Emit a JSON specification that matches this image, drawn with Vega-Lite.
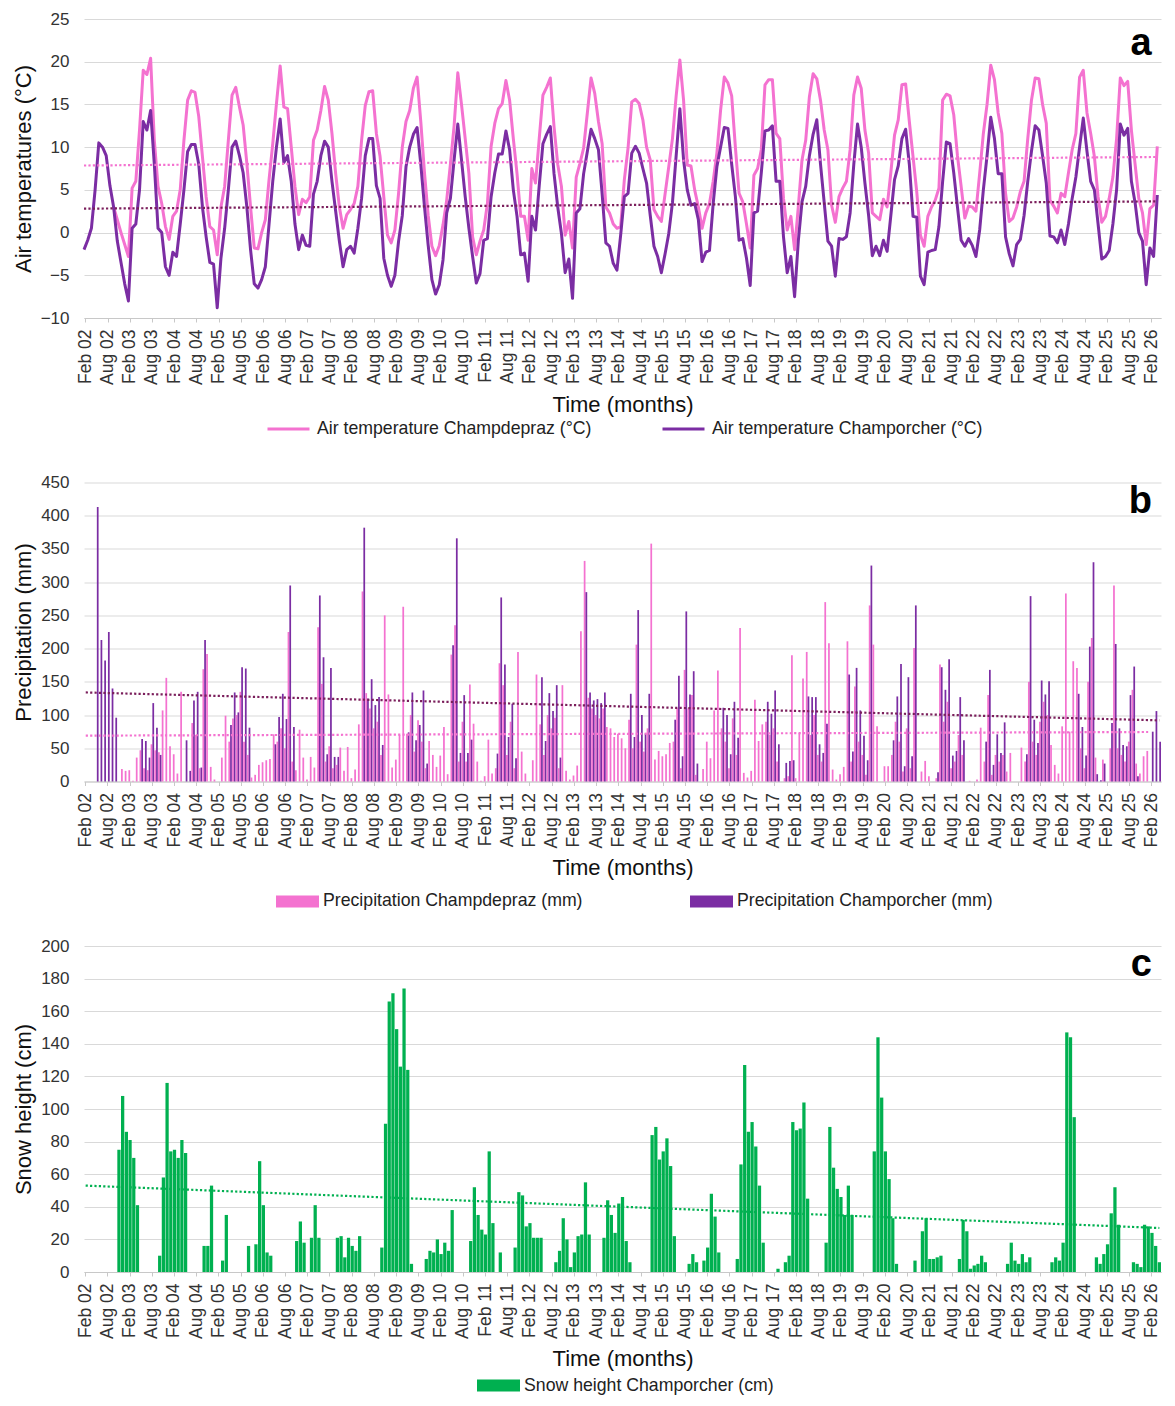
{
"$schema":"https://vega.github.io/schema/vega-lite/v6.json",
"background":"white",
"padding":{"left":12,"top":10,"right":15,"bottom":5},
"config":{
 "font":"Liberation Sans",
 "view":{"stroke":null},
 "axis":{"labelFont":"Liberation Sans","titleFont":"Liberation Sans","labelColor":"#333333","titleColor":"#111111","titleFontWeight":"normal","gridColor":"#d9d9d9","gridWidth":1,"domainColor":"#c8c8c8","tickColor":"#c8c8c8"},
 "axisX":{"grid":false,"labelAngle":270,"labelFontSize":17.5,"titleFontSize":22,"tickSize":4,"labelPadding":7,"titlePadding":10,"labelOverlap":false},
 "axisY":{"domain":false,"ticks":false,"labelFontSize":17,"titleFontSize":22,"labelPadding":15,"titlePadding":5,"labelOverlap":false},
 "legend":{"labelFont":"Liberation Sans","labelFontSize":17.7,"labelColor":"#222222","orient":"none","direction":"horizontal","padding":0}
},
"datasets":{
"tr":[{"d":"2002-02","ta":7.85,"tb":2.8,"pa":69,"pb":134,"s":53},{"d":"2026-01","pa":74.5},{"d":"2026-04","ta":8.85,"tb":3.65,"pb":92,"s":27}],
"m":[
{"d":"2002-02","tb":-2},
{"d":"2002-03","tb":-0.9},
{"d":"2002-04","tb":0.5},
{"d":"2002-05","tb":5,"pb":413},
{"d":"2002-06","tb":10.5,"pb":213},
{"d":"2002-07","tb":10,"pb":182},
{"d":"2002-08","tb":9,"pb":225},
{"d":"2002-09","tb":5.5,"pb":140},
{"d":"2002-10","ta":3,"tb":3,"pb":96},
{"d":"2002-11","ta":1.5,"tb":-1,"s":75},
{"d":"2002-12","ta":0,"tb":-3.5,"pa":19,"s":108},
{"d":"2003-01","ta":-1.4,"tb":-6,"pa":16,"s":86},
{"d":"2003-02","ta":-2.8,"tb":-8,"pa":17,"s":81},
{"d":"2003-03","ta":5.2,"tb":0.5,"pa":1,"s":70},
{"d":"2003-04","ta":6,"tb":1,"pa":36,"s":41},
{"d":"2003-05","ta":12,"tb":5,"pa":47,"pb":64},
{"d":"2003-06","ta":19,"tb":13,"pa":20,"pb":61},
{"d":"2003-07","ta":18.5,"tb":12,"pa":17,"pb":36},
{"d":"2003-08","ta":20.4,"tb":14.3,"pa":56,"pb":118},
{"d":"2003-09","ta":10.8,"tb":8,"pa":47,"pb":81},
{"d":"2003-10","ta":5.4,"tb":0.5,"pa":44,"pb":40,"s":10},
{"d":"2003-11","ta":3.4,"tb":0,"pa":107,"s":58},
{"d":"2003-12","ta":0.7,"tb":-4,"pa":156,"s":116},
{"d":"2004-01","ta":-0.8,"tb":-5,"pa":53,"s":74},
{"d":"2004-02","ta":1.9,"tb":-2.3,"pa":41,"s":75},
{"d":"2004-03","ta":2.5,"tb":-2.8,"pa":12,"s":70},
{"d":"2004-04","ta":5,"tb":1,"pa":135,"s":81},
{"d":"2004-05","ta":10.8,"tb":5,"pb":62,"s":73},
{"d":"2004-06","ta":15.5,"tb":9.5,"pb":16},
{"d":"2004-07","ta":16.6,"tb":10.3,"pa":88,"pb":122},
{"d":"2004-08","ta":16.4,"tb":10.3,"pa":70,"pb":135},
{"d":"2004-09","ta":13.6,"tb":8,"pa":20,"pb":21},
{"d":"2004-10","ta":8.9,"tb":3,"pa":169,"pb":213,"s":16},
{"d":"2004-11","ta":4.2,"tb":-0.5,"pa":192,"s":16},
{"d":"2004-12","ta":0.7,"tb":-3.5,"pa":22,"s":53},
{"d":"2005-01","ta":0.3,"tb":-3.7,"pa":3},
{"d":"2005-02","ta":-2.6,"tb":-8.8},
{"d":"2005-03","ta":3,"tb":-3,"pa":36,"s":7},
{"d":"2005-04","ta":5.4,"tb":0.5,"pa":99,"s":35},
{"d":"2005-05","ta":10.8,"tb":5,"pa":60,"pb":85},
{"d":"2005-06","ta":16.1,"tb":10,"pa":95,"pb":134},
{"d":"2005-07","ta":17,"tb":10.7,"pa":100,"pb":104},
{"d":"2005-08","ta":14.7,"tb":9,"pa":135,"pb":172},
{"d":"2005-09","ta":12.6,"tb":7,"pa":60,"pb":170},
{"d":"2005-10","ta":8.1,"tb":3,"pa":40,"pb":81,"s":16},
{"d":"2005-11","ta":3,"tb":-2,"pa":6},
{"d":"2005-12","ta":-1.8,"tb":-6,"pa":10,"s":17},
{"d":"2006-01","ta":-1.9,"tb":-6.5,"pa":25,"s":68},
{"d":"2006-02","ta":0,"tb":-5.5,"pa":29,"s":41},
{"d":"2006-03","ta":1.5,"tb":-4,"pa":32,"s":12},
{"d":"2006-04","ta":6.2,"tb":1,"pa":34,"s":10},
{"d":"2006-05","ta":10.4,"tb":6,"pa":71,"pb":56},
{"d":"2006-06","ta":15.1,"tb":10,"pa":60,"pb":97},
{"d":"2006-07","ta":19.5,"tb":13.3,"pa":80,"pb":132},
{"d":"2006-08","ta":14.7,"tb":8.2,"pa":50,"pb":94},
{"d":"2006-09","ta":14.5,"tb":9,"pa":225,"pb":295},
{"d":"2006-10","ta":10,"tb":6,"pa":30,"pb":82},
{"d":"2006-11","ta":5.4,"tb":1,"pa":17,"s":19},
{"d":"2006-12","ta":2.1,"tb":-2,"pa":78,"s":31},
{"d":"2007-01","ta":3.9,"tb":-0.3,"pa":36,"s":18},
{"d":"2007-02","ta":3.5,"tb":-1.5,"pa":3},
{"d":"2007-03","ta":4.2,"tb":-1.6,"pa":37,"s":21},
{"d":"2007-04","ta":10.8,"tb":4.5,"pa":21,"s":41},
{"d":"2007-05","ta":12,"tb":6,"pa":232,"pb":280,"s":21},
{"d":"2007-06","ta":14.3,"tb":9,"pa":147,"pb":187},
{"d":"2007-07","ta":17.1,"tb":10.7,"pa":30,"pb":41},
{"d":"2007-08","ta":15.5,"tb":10,"pa":53,"pb":171},
{"d":"2007-09","ta":11.6,"tb":6,"pa":20,"pb":37},
{"d":"2007-10","ta":6.9,"tb":2.5,"pa":25,"pb":37,"s":21},
{"d":"2007-11","ta":3,"tb":-1,"pa":51,"s":22},
{"d":"2007-12","ta":0.5,"tb":-4,"pa":16,"s":9},
{"d":"2008-01","ta":2.1,"tb":-2,"pa":52,"s":21},
{"d":"2008-02","ta":2.7,"tb":-1.6,"pa":5,"s":16},
{"d":"2008-03","ta":3.4,"tb":-2.4,"pa":18,"s":13},
{"d":"2008-04","ta":5.4,"tb":0.5,"pa":86,"s":22},
{"d":"2008-05","ta":10.8,"tb":4,"pa":286,"pb":382},
{"d":"2008-06","ta":14.9,"tb":9,"pa":133,"pb":125},
{"d":"2008-07","ta":16.5,"tb":11,"pa":110,"pb":154},
{"d":"2008-08","ta":16.6,"tb":11,"pa":80,"pb":115},
{"d":"2008-09","ta":11.6,"tb":5.5,"pa":90,"pb":127},
{"d":"2008-10","ta":8.9,"tb":4,"pa":40,"pb":55,"s":15},
{"d":"2008-11","ta":4.2,"tb":-3,"pa":250,"s":91},
{"d":"2008-12","ta":-0.3,"tb":-5,"pa":131,"s":166},
{"d":"2009-01","ta":-1.2,"tb":-6.3,"pa":21,"s":171},
{"d":"2009-02","ta":0.3,"tb":-5,"pa":33,"s":149},
{"d":"2009-03","ta":4.6,"tb":-1,"pa":70,"s":126},
{"d":"2009-04","ta":10,"tb":2,"pa":263,"s":174},
{"d":"2009-05","ta":13,"tb":7.7,"pa":72,"pb":74,"s":124},
{"d":"2009-06","ta":14.3,"tb":10,"pa":100,"pb":134,"s":5},
{"d":"2009-07","ta":16.9,"tb":11.5,"pa":45,"pb":62},
{"d":"2009-08","ta":18.2,"tb":12.3,"pa":92,"pb":85},
{"d":"2009-09","ta":13,"tb":8,"pa":60,"pb":137},
{"d":"2009-10","ta":7,"tb":3,"pa":20,"pb":27,"s":8},
{"d":"2009-11","ta":2,"tb":-1.5,"pa":61,"s":13},
{"d":"2009-12","ta":-1.6,"tb":-5.5,"pa":40,"s":12},
{"d":"2010-01","ta":-2.7,"tb":-7.2,"pa":22,"s":20},
{"d":"2010-02","ta":-1.5,"tb":-6.1,"pa":39,"s":11},
{"d":"2010-03","ta":0.9,"tb":-3.2,"pa":82,"s":18},
{"d":"2010-04","ta":3.8,"tb":2.3,"pa":11,"s":13},
{"d":"2010-05","ta":8,"tb":4,"pa":191,"pb":205,"s":38},
{"d":"2010-06","ta":12.5,"tb":8.5,"pa":235,"pb":366},
{"d":"2010-07","ta":18.7,"tb":12.7,"pa":30,"pb":43},
{"d":"2010-08","ta":15,"tb":8.5,"pa":90,"pb":130},
{"d":"2010-09","ta":11,"tb":4.2,"pa":30,"pb":43},
{"d":"2010-10","ta":6.9,"tb":0.5,"pa":146,"pb":63,"s":19},
{"d":"2010-11","ta":-0.5,"tb":-2.8,"pa":87,"s":52},
{"d":"2010-12","ta":-2.6,"tb":-5.9,"pa":30,"s":35},
{"d":"2011-01","ta":-1,"tb":-4.8,"pa":1,"s":26},
{"d":"2011-02","ta":0.3,"tb":-0.9,"pa":8,"s":23},
{"d":"2011-03","ta":3.4,"tb":-0.7,"pa":63,"s":74},
{"d":"2011-04","ta":10.1,"tb":4.2,"pa":12,"s":30},
{"d":"2011-05","ta":12.8,"tb":7,"pa":20,"pb":42},
{"d":"2011-06","ta":14.5,"tb":9.2,"pa":178,"pb":277,"s":12},
{"d":"2011-07","ta":15.1,"tb":9.2,"pa":145,"pb":176},
{"d":"2011-08","ta":17.8,"tb":11.9,"pa":40,"pb":67},
{"d":"2011-09","ta":15.5,"tb":9.7,"pa":90,"pb":117},
{"d":"2011-10","ta":11,"tb":5,"pa":20,"pb":35,"s":15},
{"d":"2011-11","ta":6.9,"tb":1.9,"pa":195,"s":49},
{"d":"2011-12","ta":1.9,"tb":-2.6,"pa":45,"s":47},
{"d":"2012-01","ta":1.9,"tb":-2.4,"pa":12,"s":28},
{"d":"2012-02","ta":-0.9,"tb":-5.7,"pa":0,"s":30},
{"d":"2012-03","ta":7.5,"tb":1.9,"pa":32,"s":21},
{"d":"2012-04","ta":5.8,"tb":0.3,"pa":161,"s":21},
{"d":"2012-05","ta":11,"tb":5.5,"pa":86,"pb":157,"s":21},
{"d":"2012-06","ta":16.1,"tb":10.4,"pa":40,"pb":61},
{"d":"2012-07","ta":17,"tb":11.5,"pa":100,"pb":133},
{"d":"2012-08","ta":18.1,"tb":12.4,"pa":80,"pb":106},
{"d":"2012-09","ta":12.4,"tb":6.9,"pa":96,"pb":145,"s":6},
{"d":"2012-10","ta":8,"tb":3,"pa":20,"pb":36,"s":13},
{"d":"2012-11","ta":5.4,"tb":-0.1,"pa":145,"s":33},
{"d":"2012-12","ta":-0.3,"tb":-4.7,"pa":16,"s":20},
{"d":"2013-01","ta":1.3,"tb":-3.1,"pa":3,"s":3},
{"d":"2013-02","ta":-1.8,"tb":-7.7,"pa":9,"s":12},
{"d":"2013-03","ta":6.5,"tb":2.3,"pa":24,"s":22},
{"d":"2013-04","ta":8.1,"tb":2.8,"pa":226,"s":23},
{"d":"2013-05","ta":9.9,"tb":6.9,"pa":332,"pb":285,"s":55},
{"d":"2013-06","ta":14,"tb":9.5,"pa":126,"pb":134,"s":23},
{"d":"2013-07","ta":18.1,"tb":12.1,"pa":110,"pb":122},
{"d":"2013-08","ta":16.3,"tb":11,"pa":100,"pb":124},
{"d":"2013-09","ta":13,"tb":9.7,"pa":95,"pb":118},
{"d":"2013-10","ta":10.4,"tb":4.5,"pa":110,"pb":134,"s":21},
{"d":"2013-11","ta":3,"tb":-1.2,"pa":82,"s":44},
{"d":"2013-12","ta":2.3,"tb":-1.6,"pa":80,"s":35},
{"d":"2014-01","ta":1,"tb":-3.6,"pa":67,"s":24},
{"d":"2014-02","ta":0.5,"tb":-4.4,"pa":72,"s":42},
{"d":"2014-03","ta":0.7,"tb":-0.3,"pa":65,"s":46},
{"d":"2014-04","ta":6.2,"tb":4.2,"pa":50,"s":19},
{"d":"2014-05","ta":9.9,"tb":4.6,"pa":93,"pb":132,"s":6},
{"d":"2014-06","ta":15.3,"tb":9.3,"pa":50,"pb":67},
{"d":"2014-07","ta":15.6,"tb":10.1,"pa":206,"pb":258},
{"d":"2014-08","ta":15.1,"tb":9.3,"pa":60,"pb":100},
{"d":"2014-09","ta":13.2,"tb":7.5,"pa":45,"pb":72},
{"d":"2014-10","ta":10,"tb":5.8,"pa":80,"pb":132},
{"d":"2014-11","ta":8.5,"tb":2,"pa":358,"s":84},
{"d":"2014-12","ta":2.7,"tb":-1.6,"pa":33,"s":89},
{"d":"2015-01","ta":1.9,"tb":-2.8,"pa":46,"s":69},
{"d":"2015-02","ta":1.3,"tb":-4.7,"pa":38,"s":74},
{"d":"2015-03","ta":4.5,"tb":-2.5,"pa":41,"s":82},
{"d":"2015-04","ta":7.7,"tb":-0.1,"pa":58,"s":65},
{"d":"2015-05","ta":11,"tb":3.5,"pa":60,"pb":93,"s":22},
{"d":"2015-06","ta":16,"tb":9,"pa":110,"pb":159},
{"d":"2015-07","ta":20.2,"tb":14.5,"pa":20,"pb":38},
{"d":"2015-08","ta":15.5,"tb":8.5,"pa":168,"pb":256},
{"d":"2015-09","ta":7.9,"tb":5,"pa":110,"pb":131,"s":5},
{"d":"2015-10","ta":7.8,"tb":3.2,"pa":130,"pb":166,"s":11},
{"d":"2015-11","ta":5,"tb":3.4,"pa":10,"pb":27,"s":6},
{"d":"2015-12","ta":3,"tb":1.5},
{"d":"2016-01","ta":0.5,"tb":-3.4,"pa":19,"s":7},
{"d":"2016-02","ta":2.3,"tb":-2.3,"pa":60,"s":15},
{"d":"2016-03","ta":3.4,"tb":-2.1,"pa":35,"s":48},
{"d":"2016-04","ta":6,"tb":3.4,"pa":107,"s":34},
{"d":"2016-05","ta":9.3,"tb":7.7,"pa":167,"s":12},
{"d":"2016-06","ta":14.3,"tb":10,"pa":80,"pb":111},
{"d":"2016-07","ta":18.2,"tb":12.3,"pa":60,"pb":100},
{"d":"2016-08","ta":17.5,"tb":12.2,"pa":20,"pb":41},
{"d":"2016-09","ta":16,"tb":8,"pa":95,"pb":120},
{"d":"2016-10","ta":10,"tb":4.2,"pa":40,"pb":66,"s":8},
{"d":"2016-11","ta":4.6,"tb":-0.9,"pa":231,"s":66},
{"d":"2016-12","ta":3.6,"tb":-0.7,"pa":13,"s":127},
{"d":"2017-01","ta":1,"tb":-3,"pa":6,"s":86},
{"d":"2017-02","ta":-1.8,"tb":-6.2,"pa":16,"s":92},
{"d":"2017-03","ta":6.7,"tb":2.3,"pa":123,"s":77},
{"d":"2017-04","ta":7.5,"tb":2.5,"pa":61,"s":53},
{"d":"2017-05","ta":9.7,"tb":7,"pa":86,"s":18},
{"d":"2017-06","ta":17.3,"tb":11.9,"pa":90,"pb":120},
{"d":"2017-07","ta":17.9,"tb":12,"pa":70,"pb":102},
{"d":"2017-08","ta":17.9,"tb":12.5,"pa":80,"pb":137},
{"d":"2017-09","ta":11.6,"tb":6,"pa":30,"pb":56,"s":2},
{"d":"2017-10","ta":11,"tb":6,"pa":0},
{"d":"2017-11","ta":4,"tb":-0.5,"pa":5,"pb":28,"s":6},
{"d":"2017-12","ta":0.3,"tb":-4.7,"pa":8,"pb":31,"s":10},
{"d":"2018-01","ta":1.9,"tb":-2.8,"pa":190,"pb":32,"s":92},
{"d":"2018-02","ta":-2,"tb":-7.5,"pa":5,"s":87},
{"d":"2018-03","ta":3,"tb":-1,"pa":73,"s":88},
{"d":"2018-04","ta":8.5,"tb":3.6,"pa":155,"s":104},
{"d":"2018-05","ta":10.8,"tb":5.4,"pa":195,"pb":128,"s":45},
{"d":"2018-06","ta":15.9,"tb":9,"pa":70,"pb":127},
{"d":"2018-07","ta":18.6,"tb":11.5,"pa":100,"pb":127},
{"d":"2018-08","ta":18,"tb":13.2,"pa":40,"pb":56},
{"d":"2018-09","ta":15.5,"tb":8,"pa":30,"pb":43},
{"d":"2018-10","ta":12,"tb":3.5,"pa":270,"pb":87,"s":18},
{"d":"2018-11","ta":9.7,"tb":-1,"pa":208,"s":89},
{"d":"2018-12","ta":3.2,"tb":-1.6,"pa":18,"s":64},
{"d":"2019-01","ta":1.2,"tb":-5.1,"pa":3,"s":51},
{"d":"2019-02","ta":4.2,"tb":-0.7,"pa":11,"s":46},
{"d":"2019-03","ta":5.2,"tb":-0.8,"pa":22,"s":35},
{"d":"2019-04","ta":6,"tb":-0.5,"pa":211,"pb":161,"s":53},
{"d":"2019-05","ta":9.7,"tb":2.3,"pa":30,"pb":45,"s":35},
{"d":"2019-06","ta":16.1,"tb":8,"pa":143,"pb":171},
{"d":"2019-07","ta":18.2,"tb":12.7,"pa":60,"pb":107},
{"d":"2019-08","ta":16.9,"tb":10,"pa":40,"pb":69},
{"d":"2019-09","ta":12,"tb":5.8,"pa":10,"pb":32},
{"d":"2019-10","ta":9.3,"tb":2,"pa":265,"pb":325},
{"d":"2019-11","ta":2.3,"tb":-2.7,"pa":206,"s":74},
{"d":"2019-12","ta":1.9,"tb":-1.6,"pa":83,"s":144},
{"d":"2020-01","ta":1.5,"tb":-2.7,"s":107},
{"d":"2020-02","ta":3.9,"tb":-0.9,"pa":23,"s":74},
{"d":"2020-03","ta":3,"tb":-2.2,"pa":23,"s":57},
{"d":"2020-04","ta":7,"tb":2,"pa":40,"pb":62,"s":33},
{"d":"2020-05","ta":11.4,"tb":6.2,"pa":90,"pb":128,"s":5},
{"d":"2020-06","ta":13.2,"tb":7.8,"pa":60,"pb":177},
{"d":"2020-07","ta":17.3,"tb":11,"pa":15,"pb":23},
{"d":"2020-08","ta":17.4,"tb":12.1,"pa":80,"pb":157},
{"d":"2020-09","ta":13,"tb":8,"pa":20,"pb":38},
{"d":"2020-10","ta":8.9,"tb":1.9,"pa":201,"pb":265,"s":7},
{"d":"2020-11","ta":4.8,"tb":1.8},
{"d":"2020-12","ta":-0.3,"tb":-5.1,"pa":15,"s":25},
{"d":"2021-01","ta":-1.6,"tb":-6.1,"pa":31,"s":33},
{"d":"2021-02","ta":1.9,"tb":-2.3,"pa":8,"s":8},
{"d":"2021-03","ta":3,"tb":-2.1,"s":8},
{"d":"2021-04","ta":3.8,"tb":-2,"pa":5,"pb":14,"s":9},
{"d":"2021-05","ta":5.2,"tb":0.7,"pa":176,"pb":172,"s":10},
{"d":"2021-06","ta":15.5,"tb":6,"pa":90,"pb":138},
{"d":"2021-07","ta":16.2,"tb":10.6,"pa":120,"pb":184},
{"d":"2021-08","ta":16,"tb":10.4,"pa":20,"pb":39},
{"d":"2021-09","ta":13.8,"tb":7,"pa":30,"pb":46},
{"d":"2021-10","ta":9,"tb":3,"pa":70,"pb":127,"s":8},
{"d":"2021-11","ta":5.4,"tb":-0.9,"pa":40,"pb":62,"s":32},
{"d":"2021-12","ta":1.7,"tb":-1.6,"pa":0,"s":25},
{"d":"2022-01","ta":3.1,"tb":-0.7,"pa":1,"s":2},
{"d":"2022-02","ta":3,"tb":-1.5,"pa":0,"s":4},
{"d":"2022-03","ta":2.5,"tb":-2.8,"pa":3,"s":5},
{"d":"2022-04","ta":6.9,"tb":0.3,"pa":81,"s":10},
{"d":"2022-05","ta":11.6,"tb":5,"pa":30,"pb":60,"s":6},
{"d":"2022-06","ta":15,"tb":9,"pa":130,"pb":168},
{"d":"2022-07","ta":19.6,"tb":13.5,"pa":10,"pb":25},
{"d":"2022-08","ta":17.9,"tb":11,"pa":40,"pb":71},
{"d":"2022-09","ta":14,"tb":6.9,"pa":30,"pb":43},
{"d":"2022-10","ta":11.6,"tb":6.9,"pa":40,"pb":89},
{"d":"2022-11","ta":4.6,"tb":-0.5,"pa":15,"s":5},
{"d":"2022-12","ta":1.3,"tb":-2.5,"pa":43,"s":18},
{"d":"2023-01","ta":1.7,"tb":-3.9,"s":7},
{"d":"2023-02","ta":3,"tb":-1.4,"s":5},
{"d":"2023-03","ta":4.8,"tb":-0.8,"pa":51,"s":11},
{"d":"2023-04","ta":6,"tb":2,"pa":30,"pb":41,"s":6},
{"d":"2023-05","ta":11,"tb":6,"pa":150,"pb":279,"s":9},
{"d":"2023-06","ta":15.5,"tb":9.5,"pa":60,"pb":93},
{"d":"2023-07","ta":18.1,"tb":12.5,"pa":40,"pb":58},
{"d":"2023-08","ta":18,"tb":12,"pa":90,"pb":152},
{"d":"2023-09","ta":15,"tb":9,"pa":120,"pb":131},
{"d":"2023-10","ta":12.8,"tb":5.8,"pa":100,"pb":151},
{"d":"2023-11","ta":3.8,"tb":-0.4,"pa":55,"s":6},
{"d":"2023-12","ta":3.1,"tb":-0.5,"pa":25,"s":9},
{"d":"2024-01","ta":2.3,"tb":-1.2,"pa":12,"s":7},
{"d":"2024-02","ta":4.6,"tb":0.3,"pa":83,"s":18},
{"d":"2024-03","ta":4.2,"tb":-1.4,"pa":283,"s":147},
{"d":"2024-04","ta":7,"tb":1,"pa":75,"s":144},
{"d":"2024-05","ta":9.7,"tb":4,"pa":181,"s":95},
{"d":"2024-06","ta":11.6,"tb":6.5,"pa":171,"pb":132},
{"d":"2024-07","ta":18.2,"tb":10,"pa":50,"pb":82},
{"d":"2024-08","ta":19,"tb":13.4,"pa":20,"pb":39},
{"d":"2024-09","ta":14,"tb":9.5,"pa":150,"pb":203},
{"d":"2024-10","ta":11.6,"tb":6,"pa":216,"pb":330},
{"d":"2024-11","ta":8.9,"tb":5,"pa":36,"pb":11,"s":9},
{"d":"2024-12","ta":4.2,"tb":1,"pa":0,"pb":2,"s":5},
{"d":"2025-01","ta":1.2,"tb":-3.1,"pa":33,"pb":27,"s":11},
{"d":"2025-02","ta":1.9,"tb":-2.8,"s":17},
{"d":"2025-03","ta":4,"tb":-2.1,"pa":50,"pb":88,"s":36},
{"d":"2025-04","ta":6.5,"tb":1,"pa":295,"pb":207,"s":52},
{"d":"2025-05","ta":11,"tb":5,"pa":50,"pb":80,"s":29},
{"d":"2025-06","ta":18.1,"tb":12.7,"pa":40,"pb":55},
{"d":"2025-07","ta":17.2,"tb":11.4,"pa":30,"pb":53},
{"d":"2025-08","ta":17.7,"tb":12.2,"pa":60,"pb":130},
{"d":"2025-09","ta":12,"tb":6,"pa":138,"pb":173,"s":6},
{"d":"2025-10","ta":8,"tb":3.5,"pa":27,"pb":8,"s":5},
{"d":"2025-11","ta":4,"tb":0,"pa":12,"s":3},
{"d":"2025-12","ta":2.3,"tb":-1,"pa":38,"s":29},
{"d":"2026-01","ta":-1.4,"tb":-6.1,"pa":46,"s":28},
{"d":"2026-02","ta":2.8,"tb":-1.8,"pb":75,"s":24},
{"d":"2026-03","ta":3.2,"tb":-2.8,"pb":106,"s":16},
{"d":"2026-04","ta":10.1,"tb":4.4,"pb":60,"s":6}
]},
"vconcat":[
{
 "width":1077,"height":299,
 "data":{"name":"m"},
 "layer":[
  {"transform":[{"fold":["ta","tb"],"as":["k","v"]}],
   "mark":{"type":"line","strokeWidth":3,"strokeJoin":"round"},
   "encoding":{
    "x":{"field":"d","type":"ordinal","bandPosition":0,"scale":{"type":"band","paddingInner":0,"paddingOuter":0},
      "axis":{"title":"Time (months)","labelExpr":"(substring(datum.value,5,7)=='02'?'Feb ':'Aug ')+substring(datum.value,2,4)","values":["2002-02","2002-08","2003-02","2003-08","2004-02","2004-08","2005-02","2005-08","2006-02","2006-08","2007-02","2007-08","2008-02","2008-08","2009-02","2009-08","2010-02","2010-08","2011-02","2011-08","2012-02","2012-08","2013-02","2013-08","2014-02","2014-08","2015-02","2015-08","2016-02","2016-08","2017-02","2017-08","2018-02","2018-08","2019-02","2019-08","2020-02","2020-08","2021-02","2021-08","2022-02","2022-08","2023-02","2023-08","2024-02","2024-08","2025-02","2025-08","2026-02"]}},
    "y":{"field":"v","type":"quantitative","scale":{"domain":[-10,25],"nice":false,"zero":false},"axis":{"values":[-10,-5,0,5,10,15,20,25],"tickCount":20,"labelOverlap":false,"title":"Air temperatures (°C)"}},
    "color":{"field":"k","type":"nominal","scale":{"domain":["ta","tb"],"range":["#F472D0","#7B2DA3"]},
      "legend":{"title":null,"legendX":182,"legendY":387,"symbolType":"stroke","symbolSize":1764,"symbolStrokeWidth":3,"labelOffset":6,"columnPadding":64,"labelLimit":400,"labelExpr":"datum.value=='ta'?'Air temperature Champdepraz (°C)':'Air temperature Champorcher (°C)'"}}
   }},
  {"data":{"name":"tr"},"transform":[{"filter":"isValid(datum.ta)"}],"mark":{"type":"line","color":"#F472D0","strokeWidth":2.2,"strokeDash":[2.2,2.2]},
   "encoding":{"x":{"field":"d","type":"ordinal","bandPosition":0},"y":{"field":"ta","type":"quantitative"}}},
  {"data":{"name":"tr"},"transform":[{"filter":"isValid(datum.tb)"}],"mark":{"type":"line","color":"#7B1F5C","strokeWidth":2.2,"strokeDash":[2.2,2.2]},
   "encoding":{"x":{"field":"d","type":"ordinal","bandPosition":0},"y":{"field":"tb","type":"quantitative"}}},
  {"transform":[{"filter":"datum.d=='2026-02'"}],
   "mark":{"type":"text","text":"a","fontSize":38,"fontWeight":"bold","align":"right","baseline":"alphabetic","color":"#000000"},
   "encoding":{"x":{"field":"d","type":"ordinal"},"y":{"datum":20.8}}}
 ]
},
{
 "width":1077,"height":299,
 "data":{"name":"m"},
 "layer":[
  {"transform":[{"fold":["pa","pb"],"as":["k","v"]}],
   "mark":{"type":"bar"},
   "encoding":{
    "x":{"field":"d","type":"ordinal","scale":{"type":"band","paddingInner":0.06,"paddingOuter":0},
      "axis":{"title":"Time (months)","labelExpr":"(substring(datum.value,5,7)=='02'?'Feb ':'Aug ')+substring(datum.value,2,4)","values":["2002-02","2002-08","2003-02","2003-08","2004-02","2004-08","2005-02","2005-08","2006-02","2006-08","2007-02","2007-08","2008-02","2008-08","2009-02","2009-08","2010-02","2010-08","2011-02","2011-08","2012-02","2012-08","2013-02","2013-08","2014-02","2014-08","2015-02","2015-08","2016-02","2016-08","2017-02","2017-08","2018-02","2018-08","2019-02","2019-08","2020-02","2020-08","2021-02","2021-08","2022-02","2022-08","2023-02","2023-08","2024-02","2024-08","2025-02","2025-08","2026-02"]}},
    "xOffset":{"field":"k","type":"nominal","scale":{"domain":["pa","pb"]}},
    "y":{"field":"v","type":"quantitative","scale":{"domain":[0,450],"nice":false},"axis":{"values":[0,50,100,150,200,250,300,350,400,450],"tickCount":20,"labelOverlap":false,"title":"Precipitation (mm)"}},
    "color":{"field":"k","type":"nominal","scale":{"domain":["pa","pb"],"range":["#F472D0","#7B2DA3"]},
      "legend":{"title":null,"legendX":192,"legendY":397,"symbolType":"M-1,-0.28H1V0.28H-1Z","symbolSize":1849,"symbolStrokeWidth":0,"labelOffset":4,"columnPadding":107,"labelLimit":400,"labelExpr":"datum.value=='pa'?'Precipitation Champdepraz (mm)':'Precipitation Champorcher (mm)'"}}
   }},
  {"mark":{"type":"tick","opacity":0},
   "encoding":{"x":{"field":"d","type":"ordinal"}}},
  {"data":{"name":"tr"},"transform":[{"filter":"isValid(datum.pb)"}],"mark":{"type":"line","color":"#7B1F5C","strokeWidth":2.2,"strokeDash":[2.2,2.2]},
   "encoding":{"x":{"field":"d","type":"ordinal"},"y":{"field":"pb","type":"quantitative"}}},
  {"data":{"name":"tr"},"transform":[{"filter":"isValid(datum.pa)"}],"mark":{"type":"line","color":"#F472D0","strokeWidth":2.2,"strokeDash":[2.2,2.2]},
   "encoding":{"x":{"field":"d","type":"ordinal"},"y":{"field":"pa","type":"quantitative"}}},
  {"transform":[{"filter":"datum.d=='2026-02'"}],
   "mark":{"type":"text","text":"b","fontSize":38,"fontWeight":"bold","align":"right","baseline":"alphabetic","color":"#000000"},
   "encoding":{"x":{"field":"d","type":"ordinal"},"y":{"datum":404}}}
 ]
},
{
 "width":1077,"height":326,
 "data":{"name":"m"},
 "layer":[
  {"mark":{"type":"bar"},
   "encoding":{
    "x":{"field":"d","type":"ordinal","scale":{"type":"band","paddingInner":0.12,"paddingOuter":0},
      "axis":{"title":"Time (months)","labelExpr":"(substring(datum.value,5,7)=='02'?'Feb ':'Aug ')+substring(datum.value,2,4)","values":["2002-02","2002-08","2003-02","2003-08","2004-02","2004-08","2005-02","2005-08","2006-02","2006-08","2007-02","2007-08","2008-02","2008-08","2009-02","2009-08","2010-02","2010-08","2011-02","2011-08","2012-02","2012-08","2013-02","2013-08","2014-02","2014-08","2015-02","2015-08","2016-02","2016-08","2017-02","2017-08","2018-02","2018-08","2019-02","2019-08","2020-02","2020-08","2021-02","2021-08","2022-02","2022-08","2023-02","2023-08","2024-02","2024-08","2025-02","2025-08","2026-02"]}},
    "y":{"field":"s","type":"quantitative","scale":{"domain":[0,200],"nice":false},"axis":{"values":[0,20,40,60,80,100,120,140,160,180,200],"tickCount":20,"labelOverlap":false,"title":"Snow height (cm)"}},
    "color":{"datum":"Snow height Champorcher (cm)","type":"nominal","scale":{"range":["#00B050"]},
      "legend":{"title":null,"legendX":393,"legendY":418,"symbolType":"M-1,-0.28H1V0.28H-1Z","symbolSize":1849,"symbolStrokeWidth":0,"labelOffset":4,"labelLimit":400}}
   }},
  {"mark":{"type":"tick","opacity":0},
   "encoding":{"x":{"field":"d","type":"ordinal"}}},
  {"data":{"name":"tr"},"transform":[{"filter":"isValid(datum.s)"}],"mark":{"type":"line","color":"#00B050","strokeWidth":2.2,"strokeDash":[2.2,2.2]},
   "encoding":{"x":{"field":"d","type":"ordinal"},"y":{"field":"s","type":"quantitative"}}},
  {"transform":[{"filter":"datum.d=='2026-02'"}],
   "mark":{"type":"text","text":"c","fontSize":38,"fontWeight":"bold","align":"right","baseline":"alphabetic","color":"#000000"},
   "encoding":{"x":{"field":"d","type":"ordinal"},"y":{"datum":181.6}}}
 ]
}
],
"spacing":164.5,
"bounds":"flush",
"resolve":{"scale":{"x":"independent","y":"independent","color":"independent"}}
}
